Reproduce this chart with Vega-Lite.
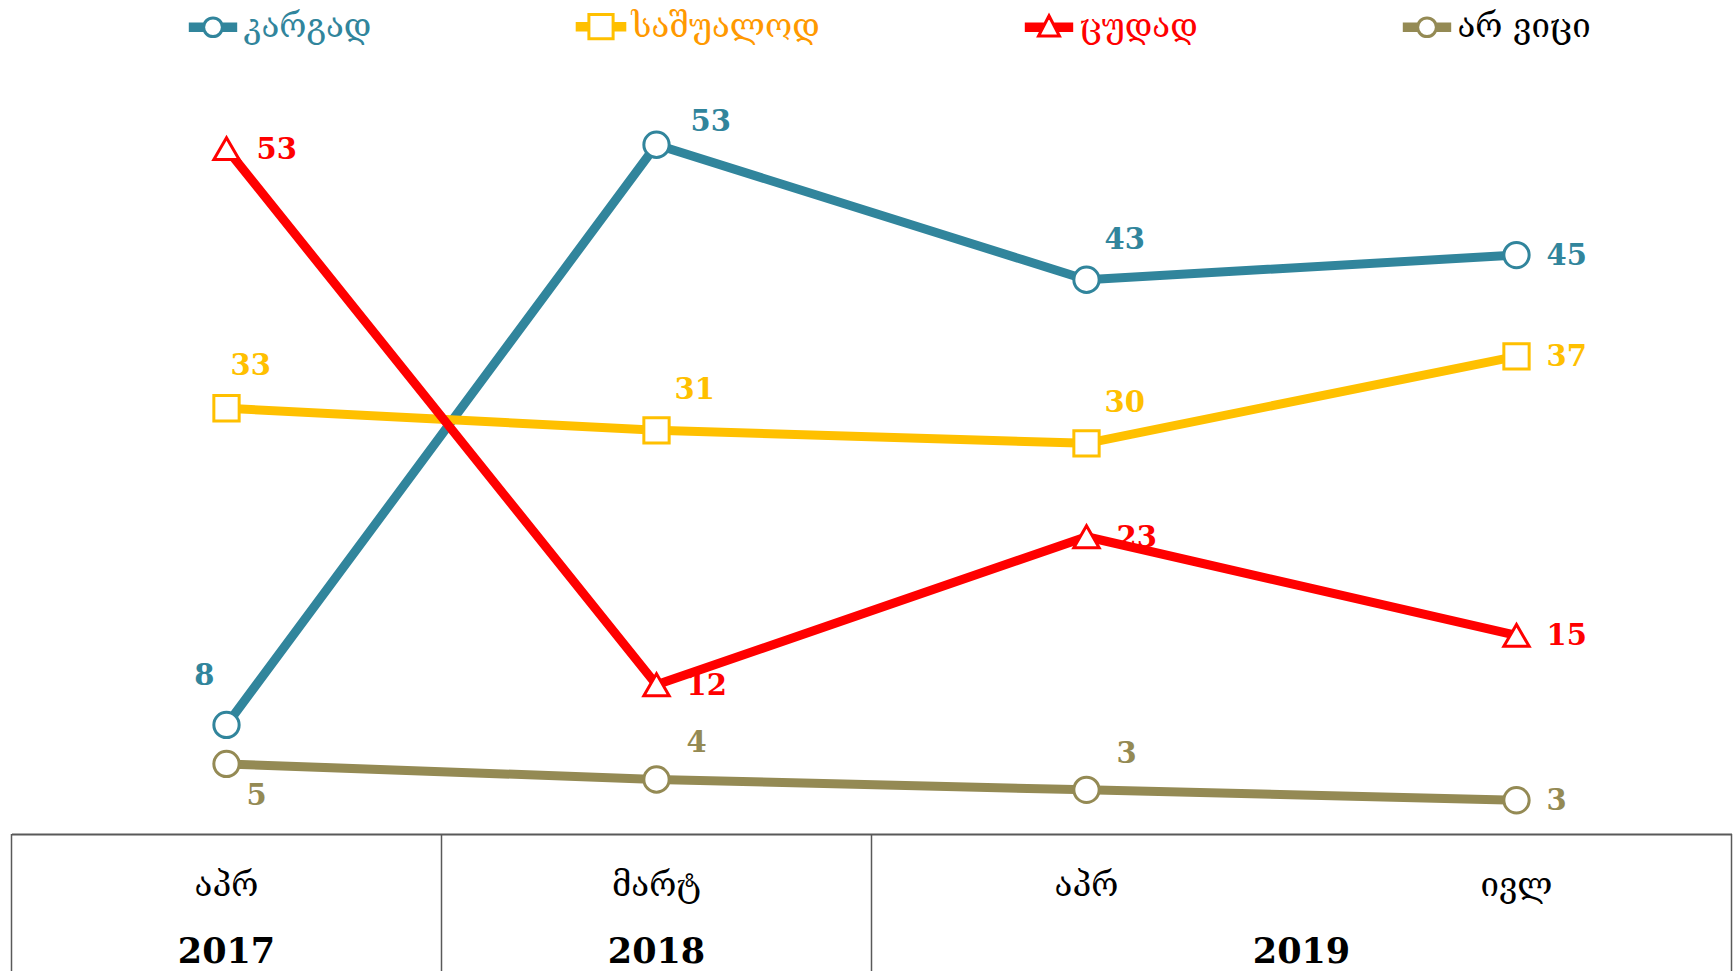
{
  "$schema": "https://vega.github.io/schema/vega-lite/v6.json",
  "width": 1720,
  "height": 834,
  "autosize": {"type": "none"},
  "padding": {"left": 11.5, "top": 0, "right": 1.5, "bottom": 137},
  "background": "white",
  "config": {"view": {"stroke": null}},
  "data": {"values": [
    {"period": "2017 აპრ", "series": "კარგად", "value": 8.4},
    {"period": "2018 მარტ", "series": "კარგად", "value": 53.1},
    {"period": "2019 აპრ", "series": "კარგად", "value": 42.7},
    {"period": "2019 ივლ", "series": "კარგად", "value": 44.6},
    {"period": "2017 აპრ", "series": "საშუალოდ", "value": 32.8},
    {"period": "2018 მარტ", "series": "საშუალოდ", "value": 31.1},
    {"period": "2019 აპრ", "series": "საშუალოდ", "value": 30.1},
    {"period": "2019 ივლ", "series": "საშუალოდ", "value": 36.8},
    {"period": "2017 აპრ", "series": "ცუდად", "value": 52.8},
    {"period": "2018 მარტ", "series": "ცუდად", "value": 11.5},
    {"period": "2019 აპრ", "series": "ცუდად", "value": 22.9},
    {"period": "2019 ივლ", "series": "ცუდად", "value": 15.3},
    {"period": "2017 აპრ", "series": "არ ვიცი", "value": 5.4},
    {"period": "2018 მარტ", "series": "არ ვიცი", "value": 4.2},
    {"period": "2019 აპრ", "series": "არ ვიცი", "value": 3.4},
    {"period": "2019 ივლ", "series": "არ ვიცი", "value": 2.6}
  ]},
  "layer": [
    {
      "mark": {"type": "line", "strokeWidth": 9, "strokeJoin": "round"},
      "encoding": {
        "x": {"field": "period", "type": "ordinal", "sort": null,
              "scale": {"type": "band", "domain": ["2017 აპრ", "2018 მარტ", "2019 აპრ", "2019 ივლ"], "paddingInner": 0, "paddingOuter": 0},
              "axis": {"orient": "bottom", "title": null, "ticks": false, "grid": false, "domainColor": "#595959", "domainWidth": 2,
                       "labelExpr": "split(datum.value, ' ')[1]", "labelFont": "DejaVu Serif", "labelFontSize": 33, "labelColor": "black",
                       "labelAngle": 0, "labelBaseline": "alphabetic", "labelPadding": 61}},
        "y": {"field": "value", "type": "quantitative", "scale": {"domain": [0, 64.25], "zero": false, "nice": false}, "axis": null},
        "color": {"field": "series", "type": "nominal",
                  "scale": {"domain": ["კარგად", "საშუალოდ", "ცუდად", "არ ვიცი"], "range": ["#31859C", "#FFC000", "#FF0000", "#948A54"]},
                  "legend": null}
      }
    },
    {
      "mark": {"type": "point", "filled": false, "fill": "white", "strokeWidth": 3, "size": 640, "opacity": 1},
      "encoding": {
        "x": {"field": "period", "type": "ordinal", "sort": null,
              "scale": {"type": "band", "domain": ["2017 აპრ", "2018 მარტ", "2019 აპრ", "2019 ივლ"], "paddingInner": 0, "paddingOuter": 0},
              "axis": null},
        "y": {"field": "value", "type": "quantitative", "scale": {"domain": [0, 64.25], "zero": false, "nice": false}, "axis": null},
        "color": {"field": "series", "type": "nominal",
                  "scale": {"domain": ["კარგად", "საშუალოდ", "ცუდად", "არ ვიცი"], "range": ["#31859C", "#FFC000", "#FF0000", "#948A54"]},
                  "legend": {"orient": "none", "legendX": 185, "legendY": 10, "direction": "horizontal", "title": null, "padding": 0,
                             "columnPadding": 198, "symbolSize": 484, "symbolStrokeWidth": 3, "symbolFillColor": "white",
                             "labelFont": "DejaVu Serif", "labelFontSize": 33, "labelLimit": 400, "labelOffset": 14,
                             "symbolType": {"expr": "datum.value === 'საშუალოდ' ? 'M-2.3,-0.3H-1.1M-2.3,-0.1H-1.1M-2.3,0.1H-1.1M-2.3,0.3H-1.1M1.1,-0.3H2.3M1.1,-0.1H2.3M1.1,0.1H2.3M1.1,0.3H2.3M-1.1,-1.1H1.1V1.1H-1.1Z' : datum.value === 'ცუდად' ? 'M-2.2,-0.3H-0.39M-2.2,-0.1H-0.49M-2.2,0.1H-0.59M-2.2,0.3H-0.69M0.39,-0.3H2.2M0.49,-0.1H2.2M0.59,0.1H2.2M0.69,0.3H2.2M0,-1.05L0.95,0.8H-0.95Z' : 'M-2.2,-0.3H-0.8M-2.2,-0.1H-0.85M-2.2,0.1H-0.85M-2.2,0.3H-0.8M0.8,-0.3H2.2M0.85,-0.1H2.2M0.85,0.1H2.2M0.8,0.3H2.2M0.85,0A0.85,0.85,0,1,1,-0.85,0A0.85,0.85,0,1,1,0.85,0Z'"},
                             "labelColor": {"expr": "datum.value === 'კარგად' ? '#31859C' : datum.value === 'საშუალოდ' ? '#FF9900' : datum.value === 'ცუდად' ? '#FF0000' : '#000000'"}
                             }},
        "shape": {"field": "series", "type": "nominal",
                  "scale": {"domain": ["კარგად", "საშუალოდ", "ცუდად", "არ ვიცი"], "range": ["circle", "square", "triangle-up", "circle"]},
                  "legend": null}
      }
    },
    {
      "transform": [{"filter": "datum.series === 'ცუდად' || datum.period === '2019 ივლ'"}],
      "mark": {"type": "text", "font": "DejaVu Serif", "fontWeight": "bold", "fontSize": 29, "align": "left", "baseline": "middle", "dx": 30, "dy": 1},
      "encoding": {
        "x": {"field": "period", "type": "ordinal", "sort": null, "scale": {"type": "band", "domain": ["2017 აპრ", "2018 მარტ", "2019 აპრ", "2019 ივლ"], "paddingInner": 0, "paddingOuter": 0}, "axis": null},
        "y": {"field": "value", "type": "quantitative", "scale": {"domain": [0, 64.25], "zero": false, "nice": false}, "axis": null},
        "text": {"field": "value", "type": "quantitative", "format": ".0f"},
        "color": {"field": "series", "type": "nominal", "scale": {"domain": ["კარგად", "საშუალოდ", "ცუდად", "არ ვიცი"], "range": ["#31859C", "#FFC000", "#FF0000", "#948A54"]}, "legend": null}
      }
    },
    {
      "transform": [{"filter": "(datum.series === 'საშუალოდ' && (datum.period === '2018 მარტ' || datum.period === '2019 აპრ')) || (datum.series === 'კარგად' && datum.period === '2019 აპრ')"}],
      "mark": {"type": "text", "font": "DejaVu Serif", "fontWeight": "bold", "fontSize": 29, "align": "left", "baseline": "middle", "dx": 18, "dy": -40},
      "encoding": {
        "x": {"field": "period", "type": "ordinal", "sort": null, "scale": {"type": "band", "domain": ["2017 აპრ", "2018 მარტ", "2019 აპრ", "2019 ივლ"], "paddingInner": 0, "paddingOuter": 0}, "axis": null},
        "y": {"field": "value", "type": "quantitative", "scale": {"domain": [0, 64.25], "zero": false, "nice": false}, "axis": null},
        "text": {"field": "value", "type": "quantitative", "format": ".0f"},
        "color": {"field": "series", "type": "nominal", "scale": {"domain": ["კარგად", "საშუალოდ", "ცუდად", "არ ვიცი"], "range": ["#31859C", "#FFC000", "#FF0000", "#948A54"]}, "legend": null}
      }
    },
    {
      "transform": [{"filter": "datum.series === 'საშუალოდ' && datum.period === '2017 აპრ'"}],
      "mark": {"type": "text", "font": "DejaVu Serif", "fontWeight": "bold", "fontSize": 29, "align": "left", "baseline": "middle", "dx": 4, "dy": -42},
      "encoding": {
        "x": {"field": "period", "type": "ordinal", "sort": null, "scale": {"type": "band", "domain": ["2017 აპრ", "2018 მარტ", "2019 აპრ", "2019 ივლ"], "paddingInner": 0, "paddingOuter": 0}, "axis": null},
        "y": {"field": "value", "type": "quantitative", "scale": {"domain": [0, 64.25], "zero": false, "nice": false}, "axis": null},
        "text": {"field": "value", "type": "quantitative", "format": ".0f"},
        "color": {"field": "series", "type": "nominal", "scale": {"domain": ["კარგად", "საშუალოდ", "ცუდად", "არ ვიცი"], "range": ["#31859C", "#FFC000", "#FF0000", "#948A54"]}, "legend": null}
      }
    },
    {
      "transform": [{"filter": "datum.series === 'არ ვიცი' && (datum.period === '2018 მარტ' || datum.period === '2019 აპრ')"}],
      "mark": {"type": "text", "font": "DejaVu Serif", "fontWeight": "bold", "fontSize": 29, "align": "left", "baseline": "middle", "dx": 30, "dy": -36},
      "encoding": {
        "x": {"field": "period", "type": "ordinal", "sort": null, "scale": {"type": "band", "domain": ["2017 აპრ", "2018 მარტ", "2019 აპრ", "2019 ივლ"], "paddingInner": 0, "paddingOuter": 0}, "axis": null},
        "y": {"field": "value", "type": "quantitative", "scale": {"domain": [0, 64.25], "zero": false, "nice": false}, "axis": null},
        "text": {"field": "value", "type": "quantitative", "format": ".0f"},
        "color": {"field": "series", "type": "nominal", "scale": {"domain": ["კარგად", "საშუალოდ", "ცუდად", "არ ვიცი"], "range": ["#31859C", "#FFC000", "#FF0000", "#948A54"]}, "legend": null}
      }
    },
    {
      "transform": [{"filter": "datum.series === 'კარგად' && datum.period === '2018 მარტ'"}],
      "mark": {"type": "text", "font": "DejaVu Serif", "fontWeight": "bold", "fontSize": 29, "align": "left", "baseline": "middle", "dx": 34, "dy": -23},
      "encoding": {
        "x": {"field": "period", "type": "ordinal", "sort": null, "scale": {"type": "band", "domain": ["2017 აპრ", "2018 მარტ", "2019 აპრ", "2019 ივლ"], "paddingInner": 0, "paddingOuter": 0}, "axis": null},
        "y": {"field": "value", "type": "quantitative", "scale": {"domain": [0, 64.25], "zero": false, "nice": false}, "axis": null},
        "text": {"field": "value", "type": "quantitative", "format": ".0f"},
        "color": {"field": "series", "type": "nominal", "scale": {"domain": ["კარგად", "საშუალოდ", "ცუდად", "არ ვიცი"], "range": ["#31859C", "#FFC000", "#FF0000", "#948A54"]}, "legend": null}
      }
    },
    {
      "transform": [{"filter": "datum.series === 'კარგად' && datum.period === '2017 აპრ'"}],
      "mark": {"type": "text", "font": "DejaVu Serif", "fontWeight": "bold", "fontSize": 29, "align": "right", "baseline": "middle", "dx": -12, "dy": -49},
      "encoding": {
        "x": {"field": "period", "type": "ordinal", "sort": null, "scale": {"type": "band", "domain": ["2017 აპრ", "2018 მარტ", "2019 აპრ", "2019 ივლ"], "paddingInner": 0, "paddingOuter": 0}, "axis": null},
        "y": {"field": "value", "type": "quantitative", "scale": {"domain": [0, 64.25], "zero": false, "nice": false}, "axis": null},
        "text": {"field": "value", "type": "quantitative", "format": ".0f"},
        "color": {"field": "series", "type": "nominal", "scale": {"domain": ["კარგად", "საშუალოდ", "ცუდად", "არ ვიცი"], "range": ["#31859C", "#FFC000", "#FF0000", "#948A54"]}, "legend": null}
      }
    },
    {
      "transform": [{"filter": "datum.series === 'არ ვიცი' && datum.period === '2017 აპრ'"}],
      "mark": {"type": "text", "font": "DejaVu Serif", "fontWeight": "bold", "fontSize": 29, "align": "left", "baseline": "middle", "dx": 20, "dy": 32},
      "encoding": {
        "x": {"field": "period", "type": "ordinal", "sort": null, "scale": {"type": "band", "domain": ["2017 აპრ", "2018 მარტ", "2019 აპრ", "2019 ივლ"], "paddingInner": 0, "paddingOuter": 0}, "axis": null},
        "y": {"field": "value", "type": "quantitative", "scale": {"domain": [0, 64.25], "zero": false, "nice": false}, "axis": null},
        "text": {"field": "value", "type": "quantitative", "format": ".0f"},
        "color": {"field": "series", "type": "nominal", "scale": {"domain": ["კარგად", "საშუალოდ", "ცუდად", "არ ვიცი"], "range": ["#31859C", "#FFC000", "#FF0000", "#948A54"]}, "legend": null}
      }
    },
    {
      "transform": [{"filter": "datum.series === 'კარგად' && datum.period !== '2019 ივლ'"}],
      "mark": {"type": "rule", "color": "#595959", "strokeWidth": 1.5},
      "encoding": {
        "x": {"field": "period", "type": "ordinal", "sort": null, "bandPosition": 0,
              "scale": {"type": "band", "domain": ["2017 აპრ", "2018 მარტ", "2019 აპრ", "2019 ივლ"], "paddingInner": 0, "paddingOuter": 0},
              "axis": {"orient": "bottom", "title": null, "ticks": false, "grid": false, "domain": false,
                       "labelExpr": "datum.value === '2017 აპრ' ? '2017' : datum.value === '2018 მარტ' ? '2018' : datum.value === '2019 აპრ' ? '2019' : ''",
                       "labelOffset": {"condition": {"test": "datum.value === '2019 აპრ'", "value": 215}, "value": 0},
                       "labelFont": "DejaVu Serif", "labelFontSize": 35, "labelFontWeight": "bold", "labelColor": "black",
                       "labelAngle": 0, "labelBaseline": "alphabetic", "labelPadding": 128}},
        "y": {"datum": 0, "type": "quantitative", "scale": {"domain": [0, 64.25], "zero": false, "nice": false}, "axis": null},
        "y2": {"datum": -11}
      }
    },
    {
      "transform": [{"filter": "datum.series === 'კარგად' && datum.period === '2019 ივლ'"}],
      "mark": {"type": "rule", "color": "#595959", "strokeWidth": 1.5},
      "encoding": {
        "x": {"field": "period", "type": "ordinal", "sort": null, "bandPosition": 1,
              "scale": {"type": "band", "domain": ["2017 აპრ", "2018 მარტ", "2019 აპრ", "2019 ივლ"], "paddingInner": 0, "paddingOuter": 0},
              "axis": null},
        "y": {"datum": 0, "type": "quantitative", "scale": {"domain": [0, 64.25], "zero": false, "nice": false}, "axis": null},
        "y2": {"datum": -11}
      }
    }
  ],
  "resolve": {"axis": {"x": "independent"}, "legend": {"color": "independent"}}
}
